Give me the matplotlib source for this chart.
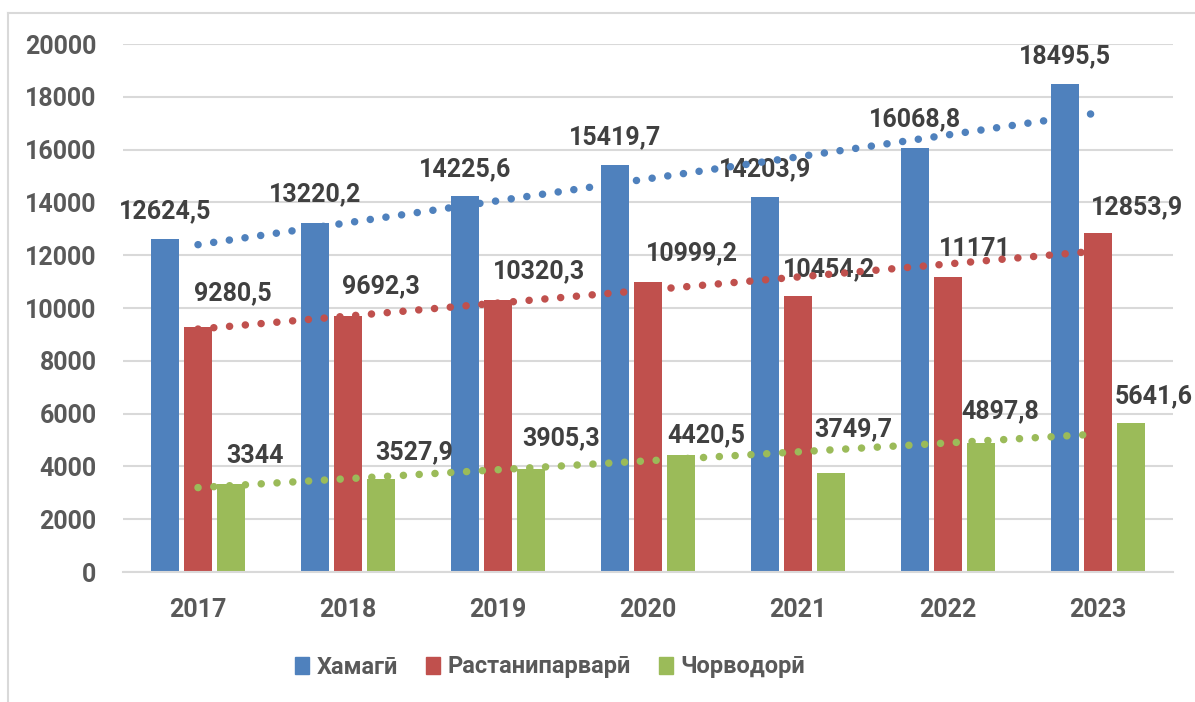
import numpy as np
import matplotlib
matplotlib.use("Agg")
import matplotlib.pyplot as plt
from matplotlib.lines import Line2D

plt.rcParams['font.family'] = ['Roboto', 'DejaVu Sans']
plt.rcParams['font.weight'] = 'bold'

# данные
years = ['2017', '2018', '2019', '2020', '2021', '2022', '2023']
names = ['Хамагӣ', 'Растанипарварӣ', 'Чорводорӣ']
hamagi = [12624.5, 13220.2, 14225.6, 15419.7, 14203.9, 16068.8, 18495.5]
rastani = [9280.5, 9692.3, 10320.3, 10999.2, 10454.2, 11171, 12853.9]
chorvo = [3344, 3527.9, 3905.3, 4420.5, 3749.7, 4897.8, 5641.6]
labels_h = ['12624,5', '13220,2', '14225,6', '15419,7', '14203,9', '16068,8', '18495,5']
labels_r = ['9280,5', '9692,3', '10320,3', '10999,2', '10454,2', '11171', '12853,9']
labels_c = ['3344', '3527,9', '3905,3', '4420,5', '3749,7', '4897,8', '5641,6']

# где стоят подписи (смещение по x от центра группы, высота центра)
lab_dx_h = [-0.22] * 7
lab_y_h = [13674, 14318, 15265, 16477, 15265, 17159, 19545]
lab_dx_r = [0.233, 0.22, 0.273, 0.293, 0.207, 0.18, 0.26]
lab_y_r = [10568, 10833, 11402, 12083, 11477, 12235, 13826]
lab_dx_c = [0.38, 0.44, 0.42, 0.387, 0.367, 0.347, 0.373]
lab_y_c = [4394, 4545, 5076, 5189, 5417, 6098, 6667]

colors = ['#4F81BD', '#C0504D', '#9BBB59']
txt_dark = '#404040'
txt_grey = '#595959'
grid_c = '#D9D9D9'

fig = plt.figure(figsize=(11.95, 7.02), dpi=100)
ax = fig.add_axes([123/1195, 1 - 572/702, 1050/1195, 528/702])

x = np.arange(len(years))
w = 0.187
step = 0.22
series = [hamagi, rastani, chorvo]
labs = [labels_h, labels_r, labels_c]
ldx = [lab_dx_h, lab_dx_r, lab_dx_c]
ly = [lab_y_h, lab_y_r, lab_y_c]

for k in range(3):
    ax.bar(x + (k - 1) * step, series[k], width=w, color=colors[k], zorder=2)
    # линейный тренд
    p = np.polyfit(x, series[k], 1)
    xt = np.linspace(0, 6, 200)
    ax.plot(xt, np.polyval(p, xt), color=colors[k], lw=5.4,
            linestyle=(0, (0.01, 2.1)), dash_capstyle='round', zorder=4)
    for i in range(len(years)):
        ax.text(x[i] + ldx[k][i], ly[k][i], labs[k][i], ha='center', va='center',
                fontsize=18, color=txt_dark, fontweight='bold', zorder=3)

ax.set_xlim(-0.5, 6.5)
ax.set_ylim(0, 20000)
ax.set_yticks(range(0, 20001, 2000))
ax.set_xticks(x)
ax.set_xticklabels(years)
ax.tick_params(length=0, labelsize=18, labelcolor=txt_grey, pad=19)
for t in ax.get_xticklabels() + ax.get_yticklabels():
    t.set_fontweight('bold')
ax.yaxis.grid(True, color=grid_c, lw=1.5, zorder=0)
ax.set_axisbelow(True)
for s in ['top', 'right', 'left']:
    ax.spines[s].set_visible(False)
ax.spines['bottom'].set_color(grid_c)
ax.spines['bottom'].set_linewidth(1.5)

# легенда
handles = [plt.Rectangle((0, 0), 1, 1, color=c) for c in colors]
leg = fig.legend(handles, names, loc='center', bbox_to_anchor=(550/1195, 1 - 667/702),
                 ncol=3, frameon=False, handlelength=0.6,
                 handleheight=0.75, handletextpad=0.3, columnspacing=1.2,
                 labelcolor=txt_grey, prop={'weight': 'bold', 'size': 17})

# рамка диаграммы
fig.add_artist(Line2D([8/1195, 8/1195], [0, 1 - 13/702], color=grid_c, lw=1.5))
fig.add_artist(Line2D([8/1195, 1], [1 - 13/702, 1 - 13/702], color=grid_c, lw=1.5))

fig.savefig('out.png', dpi=100)
